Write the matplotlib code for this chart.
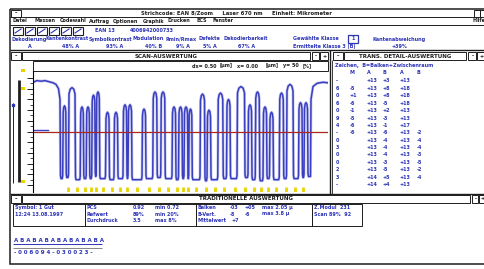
import matplotlib.pyplot as plt
from matplotlib.patches import Rectangle

# scan profile: reflectance (%) along the scan, positions in scan units
quiet_left_pos = [0, 4, 8, 12, 16, 20, 23, 25.5, 27]
quiet_left_ref = [96, 97.5, 97, 97.5, 96.5, 95.5, 94, 90, 80]
space_pos = [31.5, 39, 49, 55, 60.5, 65, 74.5, 83, 92, 97, 111, 122, 130, 141, 147.5,
             153, 157.5, 169.5, 176, 187.5, 195.5, 208, 217, 224.5, 232, 238.5,
             248.5, 257, 267.5, 273]
space_width = [2.6, 6, 2.6, 2.6, 2.6, 2.6, 3, 3, 3, 3, 3, 3.5, 3.5, 3, 3,
               3, 2.6, 4, 3, 4.5, 3, 7, 3, 3.5, 3, 3, 3.5, 6, 3, 3]
space_peak = [74, 91, 73, 73, 84, 87, 68, 68, 75, 75, 71, 87, 87, 73, 73,
              73, 71, 85, 70, 86, 80, 92, 75, 87, 73, 68, 86, 94, 77, 77]
bar_low = [6, 7, 5, 6, 6, 8, 6, 5, 6, 6, 5, 6, 7, 6, 5, 6,
           6, 5, 4, 5, 6, 6, 7, 5, 4, 6, 5, 6, 6, 7, 8]
quiet_right_pos = [278, 280, 284, 290, 295]
quiet_right_ref = [80, 92, 95, 96, 95.5]
threshold = 50
left_marker_ref = 51

param_labels = ["Dekodierung", "Kantenkontrast", "Symbolkontrast", "Modulation",
                "Rmin/Rmax", "Defekte", "Dekodierbarkeit"]
param_values = ["A", "48% A", "93% A", "40% B", "9% A", "5% A", "67% A"]
menu_items = ["Datei", "Messen", "Codewahl", "Auftrag", "Optionen", "Graphik",
              "Drucken", "ECS", "Fenster"]

detail_head = ["M", "A", "B", "A", "B"]
detail_rows = [
    ["-", "", "+13", "+3", "+13", ""],
    ["6", "-5", "+13", "+8", "+18", ""],
    ["0", "+1", "+13", "+8", "+18", ""],
    ["6", "-6", "+13", "-5", "+18", ""],
    ["0", "-1", "+13", "+2", "+13", ""],
    ["9", "-5", "+13", "-3", "+13", ""],
    ["4", "-6", "+13", "-1", "+17", ""],
    ["-", "-6", "+13", "-6", "+13", "-2"],
    ["0", "", "+13", "-4", "+13", "-4"],
    ["3", "", "+13", "-4", "+13", "-4"],
    ["0", "", "+13", "-4", "+13", "-3"],
    ["0", "", "+13", "-3", "+13", "-5"],
    ["2", "", "+13", "-5", "+13", "-2"],
    ["3", "", "+14", "+5", "+13", "-4"],
    ["-", "", "+14", "+4", "+13", ""],
]

summary = [
    ["Symbol: 1 Gut", "12:24 13.08.1997"],
    ["PCS", "0.92", "min 0.72", "Refwert", "89%", "min 20%", "Durchdruck", "3.5", "max 8%"],
    ["Balken", "-03", "+05", "max 2.05 µ", "B-Vert.", "-8", "-6", "max 3.8 µ", "Mittelwert", "+7"],
    ["Z.Modul  231", "Scan 89%  92"],
]
char_sets = "ABABABABABABABA"
digits = "- 0 0 6 0 9 4 - 0 3 0 0 2 3 -"

BLUE = "#2d34b6"
WAVE = "#3a3fc0"
RED = "#a8281e"
YELLOW = "#e6d400"
INK = "#1e1e1e"
FS = 3.5
FONT = dict(family="DejaVu Sans", fontweight="bold")

fig = plt.figure(figsize=(4.85, 2.69), dpi=100)
ui = fig.add_axes([0, 0, 1, 1])
ui.set_xlim(0, 485)
ui.set_ylim(269, 0)
ui.axis("off")


def box(x0, y0, x1, y1, lw=0.7, ec=INK, fc=None):
    ui.add_patch(Rectangle((x0, y0), x1 - x0, y1 - y0, fill=fc is not None,
                           facecolor=fc, edgecolor=ec, lw=lw))


def line(xs, ys, lw=0.7, c=INK):
    ui.plot(xs, ys, color=c, lw=lw, solid_capstyle="butt")


def txt(x, y, s, c=INK, ha="left", size=FS):
    ui.text(x, y, s, color=c, ha=ha, va="center", fontsize=size, **FONT)


def title_bar(x0, x1, y0, y1, title, field_end):
    box(x0 + 1, y0, x0 + 11, y1)
    txt(x0 + 6, (y0 + y1) / 2, "–", ha="center")
    box(x0 + 12, y0, field_end, y1)
    txt((x0 + 12 + field_end) / 2, (y0 + y1) / 2, title, ha="center", size=4)
    bw = (x1 - field_end - 3) / 2
    box(field_end + 2, y0, field_end + 2 + bw, y1)
    box(field_end + 3 + bw, y0, x1, y1)
    txt(field_end + 2 + bw / 2, (y0 + y1) / 2, "-", ha="center")
    txt(field_end + 3 + 1.5 * bw, (y0 + y1) / 2, "+", ha="center")


# main window
box(10, 9, 487, 264, lw=1.1)
line([10, 487], [17, 17])
box(11, 10, 21, 16.5)
txt(16, 13, "–", ha="center")
txt(237, 13, "Strichcode: EAN 8/Zoom     Laser 670 nm     Einheit: Mikrometer", ha="center", size=3.8)
box(474, 10, 480, 16.5)
box(480, 10, 486, 16.5)
line([10, 487], [25, 25])
menu_x = [13, 35, 60, 89, 113, 143, 168, 197, 213]
for x, m in zip(menu_x, menu_items):
    txt(x, 21, m)
txt(473, 21, "Hilfe")

# toolbar
for i in range(6):
    box(13 + i * 12, 27, 23 + i * 12, 35, lw=0.8)
    ui.plot([15 + i * 12, 21 + i * 12], [33, 29], color=BLUE, lw=0.8)
txt(95, 31, "EAN 13", c=BLUE)
txt(130, 31, "4006942000733", c=BLUE)

# grade parameters
label_x = [12, 46, 89, 133, 166, 199, 224]
value_x = [28, 62, 106, 145, 176, 203, 238]
for x, s in zip(label_x, param_labels):
    txt(x, 39, s, c=BLUE)
for x, s in zip(value_x, param_values):
    txt(x, 46.5, s, c=BLUE)
txt(293, 39, "Gewählte Klasse", c=BLUE)
box(348, 35, 358, 42.5, lw=0.9, ec=BLUE)
txt(353, 39, "1", c=BLUE, ha="center")
txt(373, 39, "Kantenabweichung", c=BLUE)
txt(293, 46.5, "Ermittelte Klasse 3 (B)", c=BLUE)
txt(392, 46.5, "+39%", c=BLUE)

# panels
line([10, 487], [50, 50], lw=1.0)
line([330, 330], [50, 194], lw=1.0)
line([332, 332], [60, 194], lw=0.6)
line([10, 487], [194, 194], lw=1.0)
title_bar(10, 328, 52, 60, "SCAN-AUSWERTUNG", 310)
title_bar(332, 486, 52, 60, "TRANS. DETAIL-AUSWERTUNG", 466)
title_bar(10, 486, 195, 202.5, "TRADITIONELLE AUSWERTUNG", 470)

# scan header row
box(33, 61, 328, 70.5)
for x, s in zip([192, 220, 237, 266, 283, 303],
                ["dx= 0.50", "[µm]", "x= 0.00", "[µm]", "y= 50", "[%]"]):
    txt(x, 66, s)

# left scale decorations
line([19.5, 19.5], [80, 182], lw=2.0)
line([13, 13], [103, 183], lw=0.7)
ui.plot([13], [105], "s", color=BLUE, ms=1.8)
for y in [70, 88, 181]:
    ui.add_patch(Rectangle((21.5, y - 1.5), 4, 3, color=YELLOW, lw=0))

# scan profile plot
ax = fig.add_axes([33 / 485, 1 - 192 / 269, 295 / 485, 121 / 269])
xs = list(quiet_left_pos)
ys = list(quiet_left_ref)
t = 0.5
prev_end = quiet_left_pos[-1]
for c, w, p, low in zip(space_pos, space_width, space_peak, bar_low):
    left, right = c - w / 2, c + w / 2
    xs += [prev_end + t, prev_end + 2 * t, left - 2 * t, left - t,
           left, left + w * 0.2, c, right - w * 0.2, right]
    ys += [low + 3, low, low, low + 3, p - 6, p - 1.5, p, p - 1.5, p - 6]
    prev_end = right
xs += [prev_end + t, prev_end + 2 * t, quiet_right_pos[0] - t]
ys += [bar_low[-1] + 3, bar_low[-1], bar_low[-1]]
xs += quiet_right_pos
ys += quiet_right_ref

ax.plot(xs, ys, color="#8d90dc", lw=2.1, alpha=0.45)
ax.plot(xs, ys, color=WAVE, lw=1.1)
ax.axhline(threshold, color=RED, lw=0.9)
ax.plot([0, 15], [left_marker_ref, left_marker_ref], color=WAVE, lw=1.0)
bar_mid = [(a + b) / 2 for a, b in zip(space_pos[:-1], space_pos[1:])]
ax.vlines(bar_mid, -6.2, -2.2, color=YELLOW, lw=2.0)
ax.set_xlim(0, 295)
ax.set_ylim(-6.5, 106.5)
for s in ["top", "right", "bottom"]:
    ax.spines[s].set_visible(False)
ax.spines["left"].set_linewidth(0.8)
ax.set_xticks([])
ax.set_yticks(range(0, 101, 10))
ax.set_yticks(range(0, 101, 5), minor=True)
ax.tick_params(axis="y", which="major", length=4, width=0.6, labelleft=False)
ax.tick_params(axis="y", which="minor", length=2, width=0.5)
ax.patch.set_alpha(0)

# detail table
txt(335, 65.5, "Zeichen,  B=Balken+Zwischenraum", c=BLUE)
col_x = [336, 350, 367, 383, 400, 417]
for x, h in zip(col_x[1:], detail_head):
    txt(x, 73, h, c=BLUE)
for i, row in enumerate(detail_rows):
    for x, v in zip(col_x, row):
        txt(x, 81 + i * 7.4, v, c=BLUE)

# traditional evaluation boxes
for x0, x1 in [(13, 85), (85, 196), (196, 312), (312, 362)]:
    box(x0, 203.5, x1, 226)
rows_y = [207.5, 214, 220.5]
txt(15, rows_y[0], summary[0][0], c=BLUE)
txt(15, rows_y[1], summary[0][1], c=BLUE)
for r in range(3):
    a, b, c = summary[1][r * 3:r * 3 + 3]
    txt(87, rows_y[r], a, c=BLUE)
    txt(133, rows_y[r], b, c=BLUE)
    txt(155, rows_y[r], c, c=BLUE)
b3 = summary[2]
for x, s in zip([198, 230, 245, 262], b3[0:4]):
    txt(x, rows_y[0], s, c=BLUE)
for x, s in zip([198, 230, 245, 262], b3[4:8]):
    txt(x, rows_y[1], s, c=BLUE)
txt(198, rows_y[2], b3[8], c=BLUE)
txt(232, rows_y[2], b3[9], c=BLUE)
txt(314, rows_y[0], summary[3][0], c=BLUE)
txt(314, rows_y[1], summary[3][1], c=BLUE)

txt(14, 240, " ".join(char_sets), c=BLUE, size=4)
line([13, 102], [243.5, 243.5], lw=0.7, c=BLUE)
line([13, 102], [247.5, 247.5], lw=0.5, c="#555")
txt(14, 252, digits, c=BLUE, size=4)

fig.savefig("out.png", dpi=100)
